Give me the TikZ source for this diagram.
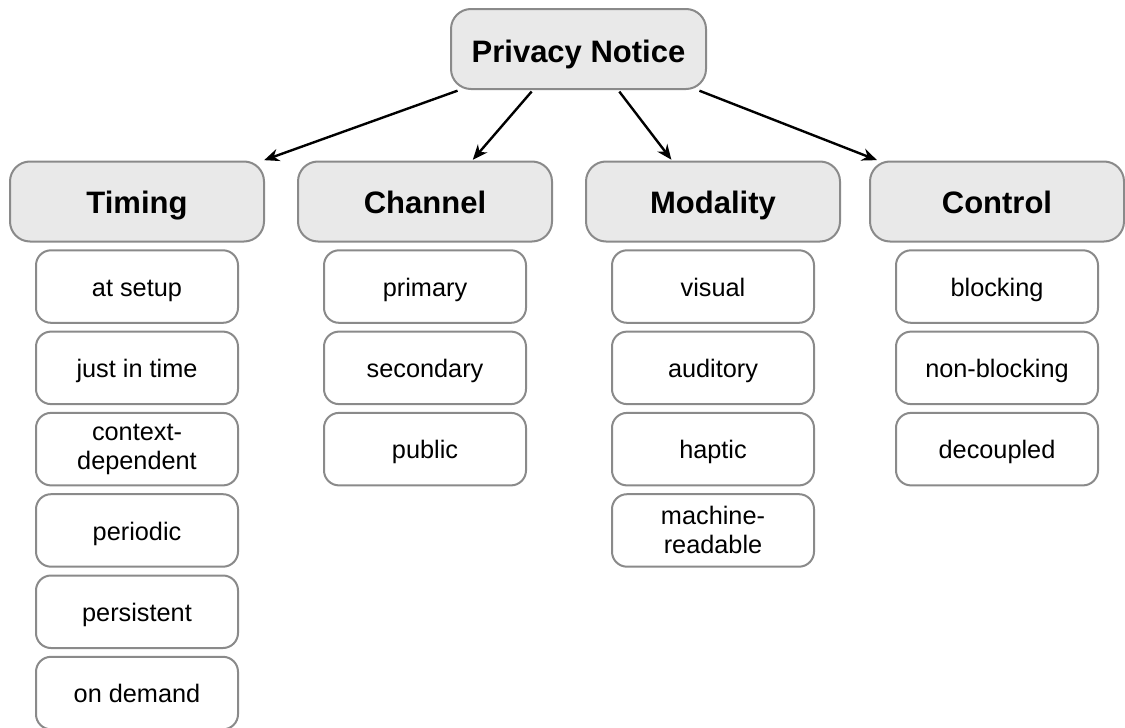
\documentclass[tikz,border=0pt]{standalone}
\usepackage{fontspec}
\setmainfont{Liberation Sans}
\usepackage{tikz}
\usetikzlibrary{arrows.meta,positioning}

\definecolor{boxgray}{HTML}{8A8A8A}
\definecolor{headfill}{HTML}{E9E9E9}

\begin{document}
\begin{tikzpicture}[x=1pt,y=-1pt,->,>={Stealth[length=15pt,width=12.5pt]},
                    shorten >=1pt,line width=2.4pt,
                    head node/.style={rectangle,rounded corners=20pt,draw=boxgray,line width=2pt,
                                      fill=headfill,inner sep=0pt,minimum width=254pt,minimum height=80pt,
                                      text height=24.5pt,text depth=0pt,
                                      font=\fontsize{31}{36}\selectfont\bfseries},
                    item node/.style={rectangle,rounded corners=15pt,draw=boxgray,line width=2pt,
                                      fill=white,inner sep=0pt,minimum width=202pt,minimum height=72.5pt,
                                      text height=19.5pt,text depth=0pt,
                                      align=center,font=\fontsize{25.3}{29}\selectfont},
                    two lines/.style={text height={},text depth={}}]

  \useasboundingbox (0,0) rectangle (1125,728);

  \node[head node,minimum width=255pt,text height=27.5pt] (notice) at (578.5,49) {Privacy Notice};

  \node[head node] (timing)   at (137,201.5) {Timing};
  \node[head node] (channel)  at (425,201.5) {Channel};
  \node[head node] (modality) at (713,201.5) {Modality};
  \node[head node] (control)  at (997,201.5) {Control};

  % timing
  \node[item node] (t1) [below=6.8pt of timing] {at setup};
  \node[item node] (t2) [below=6.8pt of t1] {just in time};
  \node[item node,two lines] (t3) [below=6.8pt of t2] {context-\\dependent};
  \node[item node] (t4) [below=6.8pt of t3] {periodic};
  \node[item node] (t5) [below=6.8pt of t4] {persistent};
  \node[item node] (t6) [below=6.8pt of t5] {on demand};

  % channel
  \node[item node] (c1) [below=6.8pt of channel] {primary};
  \node[item node] (c2) [below=6.8pt of c1] {secondary};
  \node[item node] (c3) [below=6.8pt of c2] {public};

  % modality
  \node[item node] (m1) [below=6.8pt of modality] {visual};
  \node[item node] (m2) [below=6.8pt of m1] {auditory};
  \node[item node] (m3) [below=6.8pt of m2] {haptic};
  \node[item node,two lines] (m4) [below=6.8pt of m3] {machine-\\readable};

  % control
  \node[item node] (k1) [below=6.8pt of control] {blocking};
  \node[item node] (k2) [below=6.8pt of k1] {non-blocking};
  \node[item node] (k3) [below=6.8pt of k2] {decoupled};

  \path[shorten <=2pt]
    (notice.199) edge (timing.18.5)
    (notice.222) edge (channel.41)
    (notice.314) edge (modality.135)
    (notice.341) edge (control.161);
\end{tikzpicture}
\end{document}
